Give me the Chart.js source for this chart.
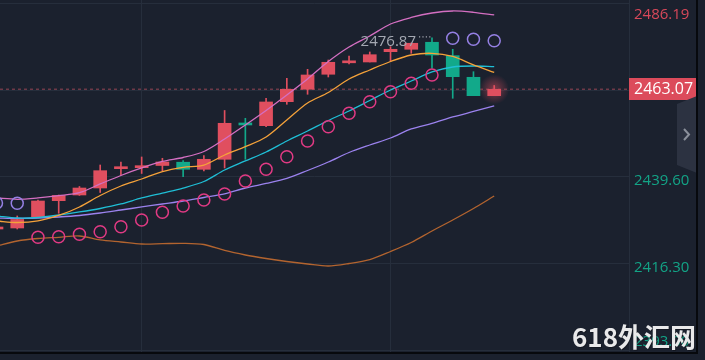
<!DOCTYPE html>
<html><head><meta charset="utf-8">
<script src="https://cdn.jsdelivr.net/npm/chart.js@4.4.1/dist/chart.umd.min.js"></script>
<style>html,body{margin:0;padding:0;background:#1b212e;overflow:hidden}#wrap{width:705px;height:360px;position:relative}</style>
</head><body><div id="wrap"><canvas id="c" width="705" height="360"></canvas></div>
<script>
// ---- data ----
const candleIndex = [0,1,2,3,4,5,6,7,8,9,10,11,12,13,14,15,16,17,18,19,20,21,22,23,24];
const openP  = [2425.67,2425.94,2428.97,2433.25,2434.78,2436.65,2441.82,2442.09,2442.68,2443.56,2441.66,2444.34,2454.06,2453.34,2459.77,2463.09,2467.11,2470.18,2470.40,2473.16,2473.80,2475.68,2472.09,2466.30,2461.37];
const highP  = [2426.50,2429.16,2433.44,2434.78,2437.06,2442.81,2443.62,2444.96,2444.61,2444.02,2445.36,2457.41,2455.32,2460.68,2466.03,2468.44,2470.93,2472.01,2473.08,2474.50,2475.49,2476.87,2473.80,2467.80,2464.11];
const lowP   = [2425.40,2425.67,2428.89,2429.88,2434.65,2435.45,2440.14,2440.54,2441.29,2439.68,2441.21,2442.01,2444.34,2453.07,2459.07,2461.75,2466.38,2469.86,2470.40,2470.48,2472.73,2468.71,2460.68,2461.37,2461.37];
const closeP = [2426.08,2428.22,2433.17,2434.65,2436.65,2441.29,2442.01,2442.63,2443.62,2441.66,2444.34,2453.98,2453.53,2459.69,2463.09,2466.92,2470.32,2470.34,2472.35,2473.80,2475.41,2472.27,2466.46,2461.37,2463.07];
const bandUpper = [2433.98,2433.63,2433.98,2434.59,2435.40,2437.73,2440.00,2442.01,2443.75,2444.82,2446.43,2449.78,2453.53,2457.41,2461.56,2465.85,2470.53,2474.42,2477.36,2480.58,2482.32,2483.52,2484.06,2483.71,2482.99];
const maOrange = [2427.82,2427.41,2427.82,2429.29,2431.57,2434.65,2437.19,2439.06,2441.07,2442.20,2442.81,2445.49,2447.71,2450.31,2454.87,2459.42,2462.23,2465.85,2468.26,2470.53,2472.27,2472.73,2471.87,2469.60,2467.59];
const maCyan = [2429.16,2428.62,2428.75,2429.42,2430.23,2431.16,2432.37,2433.98,2435.31,2436.65,2438.39,2441.47,2443.89,2446.30,2449.24,2451.92,2454.73,2457.28,2460.09,2462.90,2465.31,2467.72,2469.06,2469.33,2469.14];
const maPurple = [2428.62,2428.49,2428.62,2428.89,2429.29,2429.96,2430.76,2431.57,2432.37,2433.17,2434.11,2435.05,2436.65,2437.86,2439.20,2441.34,2443.62,2446.16,2448.17,2450.04,2452.46,2453.93,2455.67,2457.14,2458.62];
const maBrown = [2421.12,2422.46,2423.13,2423.45,2423.80,2422.73,2422.19,2421.66,2421.74,2421.84,2421.52,2419.92,2418.71,2417.77,2416.97,2416.30,2415.76,2416.43,2417.50,2419.65,2422.06,2425.14,2428.08,2431.16,2434.51];
const sarBelow = [null,null,2423.45,2423.61,2424.25,2424.95,2426.29,2428.08,2430.15,2431.83,2433.44,2435.05,2438.53,2441.66,2445.04,2449.24,2453.07,2456.66,2459.77,2462.44,2464.69,2466.92,null,null,null];
const sarAbove = [2432.64,2432.56,null,null,null,null,null,null,null,null,null,null,null,null,null,null,null,null,null,null,null,null,2476.75,2476.48,2476.10];
const yTickValues = [2486.19,2462.89,2439.60,2416.30,2393.00];
const yTickLabels = ['2486.19','','2439.60','2416.30','2393.00'];
const yTickColors = ['#d8485a','#13a386','#13a386','#13a386','#13a386'];
const xGridIndex = [7,19];
const lastPrice = 2463.07, lastPriceLabel = '2463.07';
const highIndex = 21, highValue = 2476.87, highLabel = '2476.87';
const watermark = '618外汇网';

// ---- styles ----
const BG = '#1b212e', GRID = '#262e3c';
const RED = '#e04f5f', GREEN = '#12a98a';
const bodyColors = closeP.map((c,i)=> c >= openP[i] ? RED : GREEN);

const pts = arr => candleIndex.map((x,i)=>({x, y: arr[i]}));

const deco = {
  id:'deco',
  beforeDraw(chart){
    const {ctx} = chart;
    ctx.save(); ctx.fillStyle = BG; ctx.fillRect(0,0,chart.width,chart.height); ctx.restore();
  },
  beforeDatasetsDraw(chart){
    const {ctx, chartArea:a, scales:{x,y}} = chart;
    const py = y.getPixelForValue(lastPrice);
    ctx.save();
    ctx.strokeStyle = '#6d3947'; ctx.lineWidth = 1.5; ctx.setLineDash([3,3]);
    ctx.beginPath(); ctx.moveTo(a.left, Math.round(py)+0.25); ctx.lineTo(a.right, Math.round(py)+0.25); ctx.stroke();
    ctx.setLineDash([]);
    const px = x.getPixelForValue(candleIndex[candleIndex.length-1]);
    const g = ctx.createRadialGradient(px,py,0,px,py,15);
    g.addColorStop(0,'rgba(224,79,95,0.55)'); g.addColorStop(1,'rgba(224,79,95,0)');
    ctx.fillStyle = g; ctx.beginPath(); ctx.arc(px,py,15,0,Math.PI*2); ctx.fill();
    ctx.restore();
  },
  afterDatasetsDraw(chart){
    const {ctx, chartArea:a, scales:{x,y}} = chart;
    ctx.save();
    // high annotation
    const hx = x.getPixelForValue(highIndex), hy = y.getPixelForValue(highValue);
    ctx.font = '15px "Open Sans", sans-serif'; ctx.fillStyle = '#a4a8b2';
    ctx.textAlign = 'right'; ctx.textBaseline = 'middle';
    ctx.fillText(highLabel, hx-16, hy+3.5);
    ctx.strokeStyle = '#a4a8b2'; ctx.lineWidth = 1.2; ctx.setLineDash([1.2,2.2]);
    ctx.beginPath(); ctx.moveTo(hx-13, hy-1); ctx.lineTo(hx-1, hy-1); ctx.stroke();
    ctx.setLineDash([]);
    // axis border
    ctx.fillStyle = GRID; ctx.fillRect(a.right, 0, 1, a.bottom);
    // axis labels
    ctx.font = '15px "Open Sans", sans-serif'; ctx.textAlign = 'left'; ctx.textBaseline = 'middle';
    yTickValues.forEach((v,i)=>{
      if(!yTickLabels[i]) return;
      let ty = y.getPixelForValue(v) + 3.5;
      ty = Math.max(15, Math.min(342, ty));
      ctx.fillStyle = yTickColors[i];
      ctx.fillText(yTickLabels[i], a.right+5, ty);
    });
    // current price label
    const py = y.getPixelForValue(lastPrice);
    ctx.fillStyle = '#dc4b5b'; ctx.fillRect(a.right, Math.round(py)-11, 68, 22);
    ctx.fillStyle = '#ffffff'; ctx.font = '16px "Open Sans", sans-serif';
    ctx.fillText(lastPriceLabel, a.right+5, Math.round(py)+0.5);
    // side panel with chevron
    ctx.fillStyle = '#2c3241';
    ctx.beginPath(); ctx.moveTo(677,104); ctx.lineTo(697,96); ctx.lineTo(697,173); ctx.lineTo(677,165); ctx.closePath(); ctx.fill();
    ctx.strokeStyle = '#8b909b'; ctx.lineWidth = 2;
    ctx.beginPath(); ctx.moveTo(684,129); ctx.lineTo(689,134.5); ctx.lineTo(684,140); ctx.stroke();
    // frame
    ctx.fillStyle = '#07090d';
    ctx.fillRect(0, a.bottom, 698, 2);
    ctx.fillRect(696, 0, 2, a.bottom+2);
    // watermark
    ctx.font = 'bold 26px "Noto Sans CJK SC", sans-serif'; ctx.textAlign = 'left'; ctx.textBaseline = 'alphabetic';
    ctx.fillStyle = 'rgba(0,0,0,0.25)'; ctx.fillText(watermark, 573, 348);
    ctx.fillStyle = '#e9e9ea'; ctx.fillText(watermark, 572, 347);
    ctx.restore();
  }
};

const lineDs = (data, color, order) => ({type:'line', data: pts(data), borderColor: color, borderWidth: 1.3, pointRadius: 0, pointHoverRadius: 0, tension: 0.3, order, fill:false});
const sarDs = (data, color) => ({type:'line', data: pts(data), showLine:false, pointRadius: 6, pointHoverRadius: 6, pointBorderWidth: 1.5, pointBorderColor: color, pointBackgroundColor:'rgba(0,0,0,0)', borderColor: color, order: 1});

new Chart(document.getElementById('c'), {
  type: 'bar',
  data: {
    datasets: [
      {label:'wick', data: candleIndex.map((x,i)=>({x, y:[lowP[i], highP[i]]})), backgroundColor: bodyColors, barThickness: 1, grouped:false, order: 12},
      {label:'body', data: candleIndex.map((x,i)=>({x, y:[openP[i], closeP[i]]})), backgroundColor: bodyColors, barThickness: 13, minBarLength: 2, grouped:false, order: 11},
      lineDs(maBrown, '#b3642f', 6),
      lineDs(maPurple, '#9b82ee', 5),
      lineDs(maCyan, '#1fbfd6', 4),
      lineDs(maOrange, '#f5a23a', 3),
      lineDs(bandUpper, '#d46fc2', 2),
      sarDs(sarBelow, '#e13a84'),
      sarDs(sarAbove, '#9580e4')
    ]
  },
  options: {
    responsive: false, animation: false, devicePixelRatio: 1,
    layout: {autoPadding: false, padding: {left: 0, right: 76, top: 0, bottom: 8}},
    plugins: {legend: {display:false}, tooltip: {enabled:false}},
    scales: {
      x: {type:'linear', min: 0.169, max: 30.5, offset:false,
          ticks:{display:false}, border:{display:false}, grid:{color: GRID, drawTicks:false, offset:false},
          afterBuildTicks: s => { s.ticks = xGridIndex.map(v=>({value:v})); },
          afterFit: s => { s.height = 0; }},
      y: {type:'linear', position:'right', min: 2392.73, max: 2487.00,
          ticks:{display:false}, border:{display:false}, grid:{color: GRID, drawTicks:false, offset:false},
          afterBuildTicks: s => { s.ticks = yTickValues.map(v=>({value:v})); },
          afterFit: s => { s.width = 0; }}
    }
  },
  plugins: [deco]
});
</script>
</body></html>
